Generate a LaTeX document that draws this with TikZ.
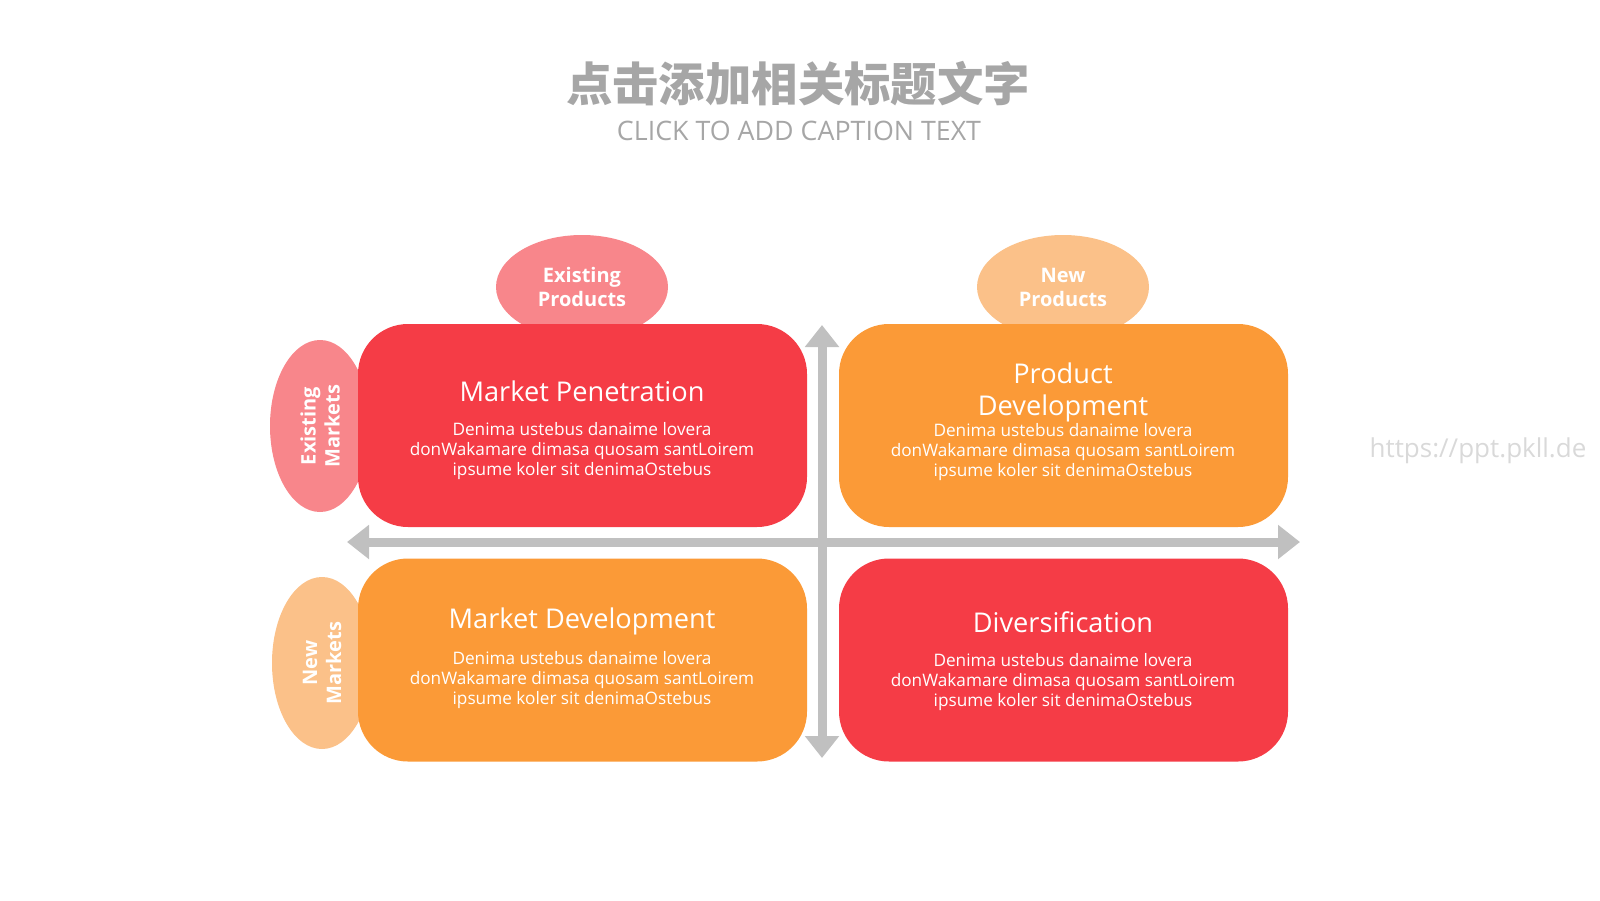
\documentclass[tikz,border=0pt]{standalone}
\usepackage{fontspec}
\setmainfont{Open Sans}
\newfontfamily\cjk{Noto Sans CJK SC}
\usetikzlibrary{shapes.geometric,arrows.meta}
\definecolor{boxred}{HTML}{F53C46}
\definecolor{boxorange}{HTML}{FB9A37}
\definecolor{tagpink}{HTML}{F8868B}
\definecolor{tagpeach}{HTML}{FBC189}
\definecolor{axisgray}{HTML}{C0C0C0}
\definecolor{titlegray}{HTML}{A6A6A6}
\definecolor{markgray}{HTML}{D9D9D9}
\begin{document}
\begin{tikzpicture}[x=0.5pt, y=-0.5pt]
\tikzstyle{quad}=[rectangle, rounded corners=25pt, minimum width=224.5pt, minimum height=101.5pt]
\tikzstyle{tag}=[ellipse, minimum width=86pt, minimum height=52pt, inner sep=0pt, text=white, align=center, font=\bfseries\fontsize{10}{12}\selectfont]
\tikzstyle{head}=[text=white, align=center, font=\fontsize{13.6}{16}\selectfont]
\tikzstyle{body}=[text=white, align=center, font=\fontsize{8.6}{10}\selectfont]
\tikzstyle{axis}=[axisgray, line width=4.5pt, {Triangle[width=16.5pt,length=11pt]}-{Triangle[width=16.5pt,length=11pt]}]
    \useasboundingbox (0,0) rectangle (1600,900);
    \node [text=titlegray, font=\cjk\bfseries\fontsize{23.2}{28}\selectfont] (title) at (798,84) {点击添加相关标题文字};
    \node [text=titlegray, font=\fontsize{13.4}{16}\selectfont] (caption) at (799,131) {CLICK TO ADD CAPTION TEXT};
    \node [text=markgray, font=\fontsize{13}{15}\selectfont] (mark) at (1478,451) {https://ppt.pkll.de};
    \coordinate (axl) at (347,542);
    \coordinate (axr) at (1300,542);
    \coordinate (axt) at (822,325);
    \coordinate (axb) at (822,758);
    \draw [axis] (axl) -- (axr);
    \draw [axis] (axt) -- (axb);
    \node [tag, fill=tagpink] (ep) at (582,287) {Existing\\Products};
    \node [tag, fill=tagpeach] (np) at (1063,287) {New\\Products};
    \node [tag, fill=tagpink, rotate=90, minimum height=50pt] (em) at (320,426) {Existing\\Markets};
    \node [tag, fill=tagpeach, rotate=90, minimum height=50pt] (nm) at (322,663) {New\\Markets};
    \node [quad, fill=boxred] (mp) at (582.5,425.5) {};
    \node [quad, fill=boxorange] (pd) at (1063.5,425.5) {};
    \node [quad, fill=boxorange] (md) at (582.5,660) {};
    \node [quad, fill=boxred] (dv) at (1063.5,660) {};
    \node [head] (mp-head) at (582,391) {Market Penetration};
    \node [body] (mp-body) at (582,451) {Denima ustebus danaime lovera\\donWakamare dimasa quosam santLoirem\\ipsume koler sit denimaOstebus};
    \node [head] (pd-head) at (1063,392) {Product\\Development};
    \node [body] (pd-body) at (1063,452) {Denima ustebus danaime lovera\\donWakamare dimasa quosam santLoirem\\ipsume koler sit denimaOstebus};
    \node [head] (md-head) at (582,621) {Market Development};
    \node [body] (md-body) at (582,680) {Denima ustebus danaime lovera\\donWakamare dimasa quosam santLoirem\\ipsume koler sit denimaOstebus};
    \node [head] (dv-head) at (1063,622) {Diversification};
    \node [body] (dv-body) at (1063,682) {Denima ustebus danaime lovera\\donWakamare dimasa quosam santLoirem\\ipsume koler sit denimaOstebus};
\end{tikzpicture}
\end{document}
